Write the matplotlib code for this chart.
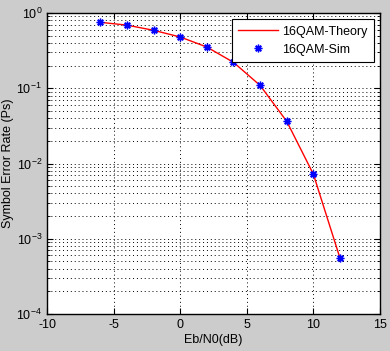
import matplotlib.pyplot as plt
import numpy as np

plt.rcParams["font.family"] = ["Liberation Sans", "DejaVu Sans"]
plt.rcParams["axes.unicode_minus"] = False

# Eb/N0 points (dB) and symbol error rates
ebn0_db = [-6, -4, -2, 0, 2, 4, 6, 8, 10, 12]
ser_theory = [0.752, 0.69, 0.589, 0.48, 0.353, 0.221, 0.109, 0.0363, 0.0072, 0.00055]
ser_sim = [0.752, 0.69, 0.589, 0.48, 0.353, 0.221, 0.109, 0.0363, 0.0072, 0.000555]

fig = plt.figure(figsize=(3.9, 3.51), dpi=100, facecolor="#cccccc")
ax = fig.add_axes([47 / 390, 1 - 314 / 351, 333 / 390, 301 / 351])

ax.semilogy(ebn0_db, ser_theory, color="red", linewidth=1.0, label="16QAM-Theory")
ax.semilogy(ebn0_db, ser_sim, linestyle="none", marker=(8, 2, 0), color="blue",
            markersize=5.5, markeredgewidth=1.0, label="16QAM-Sim")

ax.set_xlim(-10, 15)
ax.set_ylim(1e-4, 1)
ax.set_xticks(np.arange(-10, 16, 5))
dots = (0, (1, 3))
ax.grid(True, which="major", linestyle=dots, color="black", linewidth=0.7)
ax.grid(True, which="minor", axis="y", linestyle=dots, color="black", linewidth=0.7)
ax.tick_params(which="both", direction="in", top=True, right=True, labelsize=9)
ax.tick_params(which="major", length=4)
ax.tick_params(which="minor", length=2.5)
for s in ax.spines.values():
    s.set_linewidth(1.0)

ax.set_xlabel("Eb/N0(dB)", fontsize=9, labelpad=2)
ax.set_ylabel("Symbol Error Rate (Ps)", fontsize=9, labelpad=2)

leg = ax.legend(loc="upper right", fontsize=9, fancybox=False, framealpha=1,
                edgecolor="black", borderaxespad=0.5, handlelength=3.2,
                handletextpad=0.3, labelspacing=0.5, borderpad=0.5)
leg.get_frame().set_linewidth(0.8)

fig.savefig("out.png", dpi=100, facecolor=fig.get_facecolor())
